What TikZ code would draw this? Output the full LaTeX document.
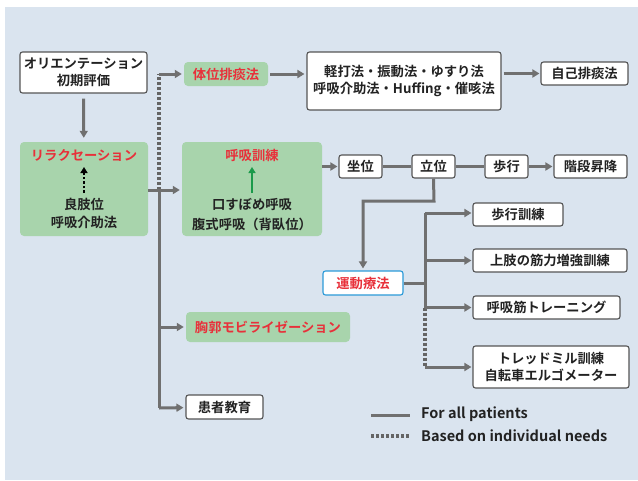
\documentclass[tikz,border=0pt]{standalone}
\usepackage{fontspec}
\setmainfont{Noto Sans CJK JP}[BoldFont={* Bold}]
\usetikzlibrary{arrows.meta}
\definecolor{bgc}{HTML}{DAE4EF}
\definecolor{gline}{HTML}{707070}
\definecolor{gfill}{HTML}{A8D4AC}
\definecolor{redt}{HTML}{E8303A}
\definecolor{bluee}{HTML}{2B9AD8}
\definecolor{garrow}{HTML}{1A9A4A}
\definecolor{txt}{HTML}{222222}
\definecolor{bord}{HTML}{555555}
\tikzset{
  every node/.style={font=\bfseries\fontsize{13.3}{17}\selectfont, text=txt, inner sep=0pt},
  wbox/.style={draw=bord, line width=1.1pt, fill=white, rounded corners=2.5pt, align=center},
  gbox/.style={fill=gfill, rounded corners=4pt, align=center},
  conn/.style={draw=gline, line width=3pt},
  arr/.style={conn, -{Triangle[length=7pt,width=8pt]}},
  dots/.style={draw=gline!90!black, line width=3.4pt, dash pattern=on 3pt off 2pt},
  redtxt/.style={text=redt},
}
\begin{document}
\begin{tikzpicture}[x=1pt,y=-1pt]
\useasboundingbox (0,0) rectangle (638,480);
\fill[bgc] (5,7) rectangle (638,480);

% boxes
\node[wbox, minimum width=127pt, minimum height=41pt] (ori) at (83.5,72.5) {オリエンテーション\\初期評価};
\node[gbox, minimum width=128pt, minimum height=94pt] (relax) at (84,189) {};
\node[redtxt] (relaxt) at (84,155) {リラクセーション};
\node (rl1) at (84,204) {良肢位};
\node (rl2) at (84,222) {呼吸介助法};
\coordinate (ra1) at (84,193);
\coordinate (ra2) at (84,167);
\draw[line width=2.6pt, draw=black, dash pattern=on 2.6pt off 2pt, -{Triangle[length=6pt,width=7pt]}] (ra1) -- (ra2);

\node[gbox, redtxt, minimum width=84pt, minimum height=24pt] (taii) at (226,74) {体位排痰法};
\node[wbox, minimum width=194pt, minimum height=58pt] (keida) at (404,81) {軽打法・振動法・ゆすり法\\呼吸介助法・Huffing・催咳法};
\node[wbox, minimum width=87pt, minimum height=23pt] (jiko) at (584.5,73.5) {自己排痰法};

\node[gbox, minimum width=140pt, minimum height=94pt] (kokyu) at (252,189) {};
\node[redtxt] (kokyut) at (252,155) {呼吸訓練};
\node (kk1) at (252,205) {口すぼめ呼吸};
\node (kk2) at (252,224) {腹式呼吸（背臥位）};
\coordinate (ka1) at (252,193);
\coordinate (ka2) at (252,167);
\draw[line width=2.6pt, draw=garrow, -{Triangle[length=6pt,width=7pt]}] (ka1) -- (ka2);

\node[wbox, minimum width=43pt, minimum height=23pt] (zai) at (360.5,166.5) {坐位};
\node[wbox, minimum width=43pt, minimum height=23pt] (ritsu) at (433.5,166.5) {立位};
\node[wbox, minimum width=43pt, minimum height=23pt] (hoko) at (506.5,166.5) {歩行};
\node[wbox, minimum width=73pt, minimum height=23pt] (kaidan) at (590.5,166.5) {階段昇降};

\node[wbox, draw=bluee, redtxt, minimum width=80pt, minimum height=24pt] (undo) at (363,283) {運動療法};
\node[wbox, minimum width=90pt, minimum height=23pt] (hk) at (518,214.5) {歩行訓練};
\node[wbox, minimum width=154pt, minimum height=23pt] (joshi) at (550,260.5) {上肢の筋力増強訓練};
\node[wbox, minimum width=147pt, minimum height=23pt] (kin) at (546.5,307.5) {呼吸筋トレーニング};
\node[wbox, minimum width=156pt, minimum height=42pt] (tread) at (551,367) {トレッドミル訓練\\自転車エルゴメーター};

\node[gbox, redtxt, minimum width=164pt, minimum height=30pt] (kyo) at (268,327) {胸郭モビライゼーション};
\node[wbox, minimum width=77pt, minimum height=24pt] (kanja) at (224.5,407) {患者教育};

% connectors
\draw[arr, shorten <=5pt, shorten >=4pt] (ori) -- (relax);
\coordinate (tr1) at (159,190);
\coordinate (tr2) at (159,327);
\coordinate (tr3) at (159,408);
\coordinate (tp) at (159,74);
\draw[dots] (tr1) -- (tp);
\draw[arr, shorten >=2pt] (tp) -- (taii);
\draw[arr, shorten >=2pt] (relax.east |- tr1) -- (kokyu.west |- tr1);
\draw[conn] (tr1) -- (tr3);
\draw[arr, shorten >=2pt] (tr2) -- (kyo);
\draw[arr, shorten >=2pt] (tr3) -- (kanja);
\draw[arr, shorten <=2pt, shorten >=2pt] (taii) -- (keida.west |- taii);
\draw[arr, shorten <=2pt, shorten >=1pt] (keida.east |- jiko) -- (jiko);
\draw[arr, shorten >=1pt] (kokyu.east |- zai) -- (zai);
\draw[conn] (zai) -- (ritsu);
\draw[conn] (ritsu) -- (hoko);
\draw[arr, shorten >=1pt] (hoko) -- (kaidan);
\coordinate (rb) at (434,201);
\coordinate (rc) at (363,201);
\draw[arr, shorten >=2pt] (ritsu.south) -- (rb) -- (rc) -- (undo.north);
\coordinate (ub) at (425,283);
\coordinate (u1) at (425,213);
\coordinate (u2) at (425,260.5);
\coordinate (u3) at (425,307.5);
\coordinate (u4) at (425,367);
\draw[conn] (undo.east) -- (ub);
\draw[conn] (u1) -- (u3);
\draw[dots] (u3) -- (u4);
\draw[arr, shorten >=1pt] (u1) -- (hk.west |- u1);
\draw[arr, shorten >=1pt] (u2) -- (joshi);
\draw[arr, shorten >=1pt] (u3) -- (kin);
\draw[arr, shorten >=1pt] (u4) -- (tread);

% legend
\coordinate (l1a) at (371,415);
\coordinate (l1b) at (410,415);
\coordinate (l2a) at (371,436);
\coordinate (l2b) at (410,436);
\draw[conn] (l1a) -- (l1b);
\draw[dots] (l2a) -- (l2b);
\node[anchor=west, font=\bfseries\fontsize{14.5}{17}\selectfont] (lt1) at (421,414) {For all patients};
\node[anchor=west, font=\bfseries\fontsize{14.5}{17}\selectfont] (lt2) at (421,436) {Based on individual needs};
\end{tikzpicture}
\end{document}
